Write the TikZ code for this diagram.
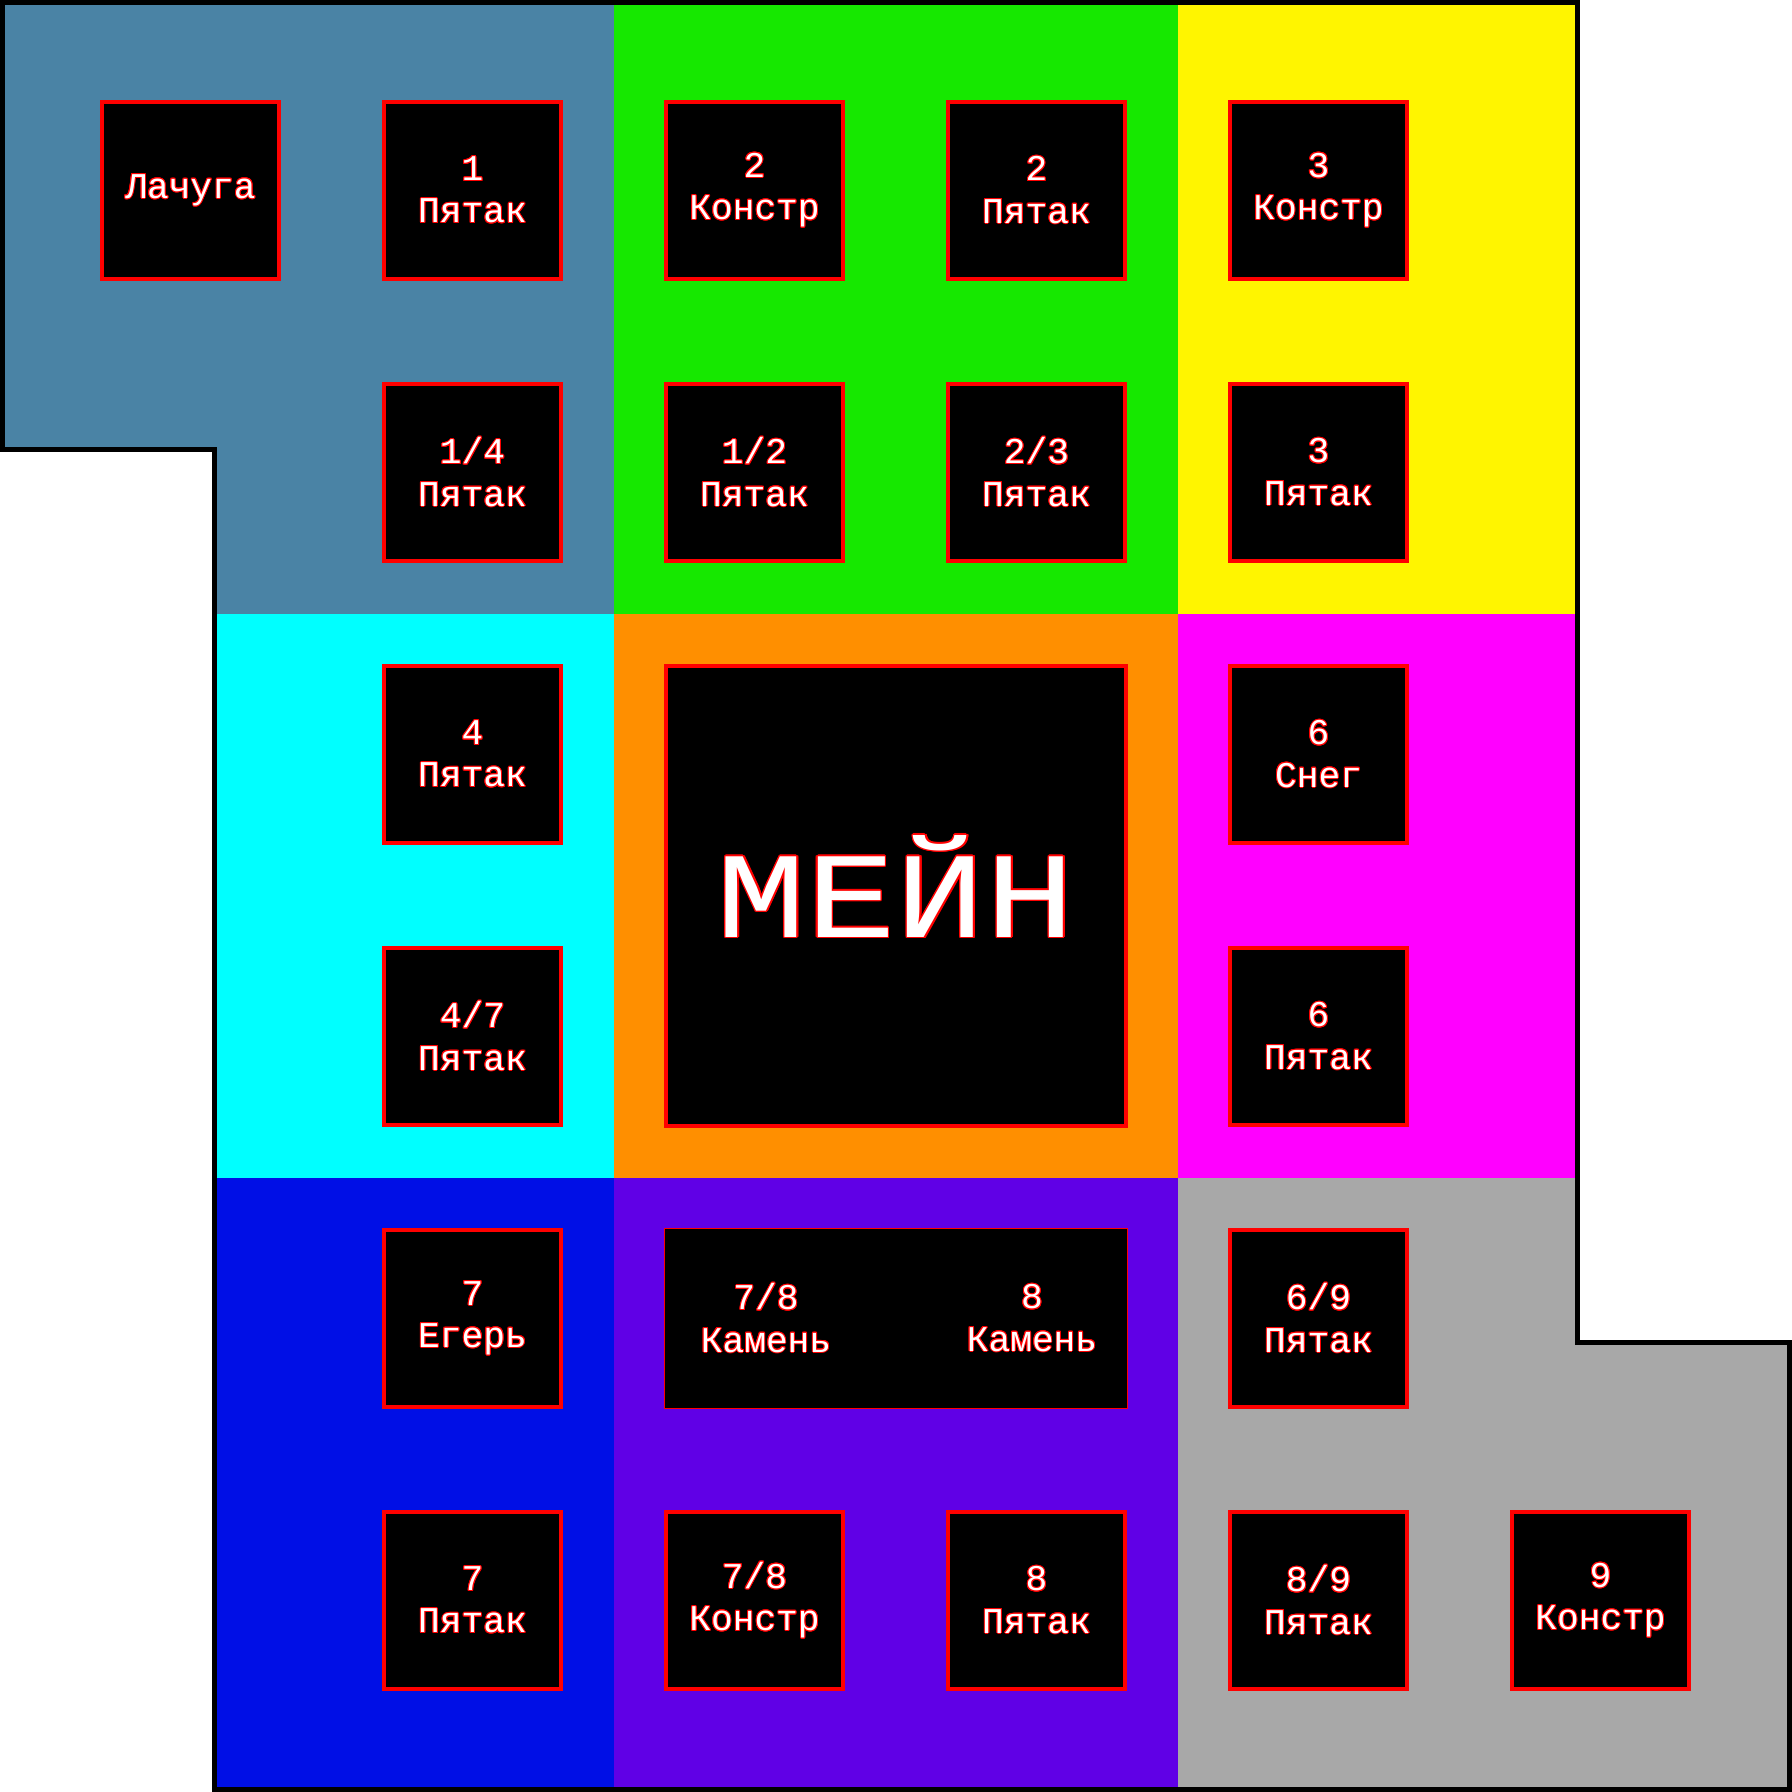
\documentclass[tikz,border=0pt]{standalone}
\usepackage{fontspec}
\newfontfamily\roomfont{Liberation Mono}
\usepackage{graphicx}
\usepackage{contour}
\contourlength{0.28pt}
\contournumber{16}
\usepackage{tikz}
\definecolor{steel}{HTML}{4A83A5}
\definecolor{leaf}{HTML}{16E800}
\definecolor{lemon}{HTML}{FFF500}
\definecolor{aqua}{HTML}{00FFFF}
\definecolor{amber}{HTML}{FF8F00}
\definecolor{fuchsia}{HTML}{FF00FF}
\definecolor{royal}{HTML}{000FE6}
\definecolor{grape}{HTML}{6000E6}
\definecolor{ash}{HTML}{A8A8A8}
\newcommand{\glow}[1]{\contour{red}{#1}}
\newcommand{\twolines}[2]{\glow{#1}\\\glow{#2}}

\begin{document}
\begin{tikzpicture}[x=0.01cm, y=-0.01cm,
  txt/.style={text=white, font=\roomfont\fontsize{10.3}{12}\selectfont, align=center, inner sep=0pt},
  room/.style={txt, draw=red, line width=1.14pt, fill=black, minimum size=1.77cm}]
  \useasboundingbox (0,0) rectangle (1792,1792);
  \fill[white] (0,0) rectangle (1792,1792);
  \fill[steel] (0,0) -- (614,0) -- (614,614) -- (214,614) -- (214,449) -- (0,449) -- cycle;
  \fill[leaf] (614,0) rectangle (1178,614);
  \fill[lemon] (1178,0) rectangle (1578,614);
  \fill[aqua] (214,614) rectangle (614,1178);
  \fill[amber] (614,614) rectangle (1178,1178);
  \fill[fuchsia] (1178,614) rectangle (1578,1178);
  \fill[royal] (214,1178) rectangle (614,1792);
  \fill[grape] (614,1178) rectangle (1178,1792);
  \fill[ash] (1178,1178) -- (1578,1178) -- (1578,1343) -- (1792,1343) -- (1792,1792) -- (1178,1792) -- cycle;
  \draw[line width=1.42pt] (2.5,2.5) -- (1577.5,2.5) -- (1577.5,1342.5) -- (1789.5,1342.5)
    -- (1789.5,1789.5) -- (214.5,1789.5) -- (214.5,449.5) -- (2.5,449.5) -- cycle;

  \node[room] (shack) at (190.5,190.5) {\glow{Лачуга}};
  \node[room] (coin1) at (472.5,190.5) {\twolines{1}{Пятак}};
  \node[room] (build2) at (754.5,190.5) {\twolines{2}{Констр}};
  \node[room] (coin2) at (1036.5,190.5) {\twolines{2}{Пятак}};
  \node[room] (build3) at (1318.5,190.5) {\twolines{3}{Констр}};

  \node[room] (coin14) at (472.5,472.5) {\twolines{1/4}{Пятак}};
  \node[room] (coin12) at (754.5,472.5) {\twolines{1/2}{Пятак}};
  \node[room] (coin23) at (1036.5,472.5) {\twolines{2/3}{Пятак}};
  \node[room] (coin3) at (1318.5,472.5) {\twolines{3}{Пятак}};

  \node[room] (coin4) at (472.5,754.5) {\twolines{4}{Пятак}};
  \node[room] (snow6) at (1318.5,754.5) {\twolines{6}{Снег}};
  \node[room] (coin47) at (472.5,1036.5) {\twolines{4/7}{Пятак}};
  \node[room] (coin6) at (1318.5,1036.5) {\twolines{6}{Пятак}};

  \node[room, minimum size=4.6cm] (main) at (896,896) {};
  \node[txt, font=\roomfont\fontsize{42.5}{48}\selectfont] (maintitle) at ([yshift=2.6pt]main.center)
    {\contourlength{0.45pt}\scalebox{1}[0.82]{\glow{МЕЙН}}};

  \node[room] (hunter7) at (472.5,1318.5) {\twolines{7}{Егерь}};
  \node[draw=red, line width=0.3pt, fill=black, minimum width=4.63cm, minimum height=1.8cm] (stones) at (896,1318.5) {};
  \node[txt] (stone78) at (766,1318.5) {\twolines{7/8}{Камень}};
  \node[txt] (stone8) at (1032,1318.5) {\twolines{8}{Камень}};
  \node[room] (coin69) at (1318.5,1318.5) {\twolines{6/9}{Пятак}};

  \node[room] (coin7) at (472.5,1600.5) {\twolines{7}{Пятак}};
  \node[room] (build78) at (754.5,1600.5) {\twolines{7/8}{Констр}};
  \node[room] (coin8) at (1036.5,1600.5) {\twolines{8}{Пятак}};
  \node[room] (coin89) at (1318.5,1600.5) {\twolines{8/9}{Пятак}};
  \node[room] (build9) at (1600.5,1600.5) {\twolines{9}{Констр}};
\end{tikzpicture}
\end{document}
